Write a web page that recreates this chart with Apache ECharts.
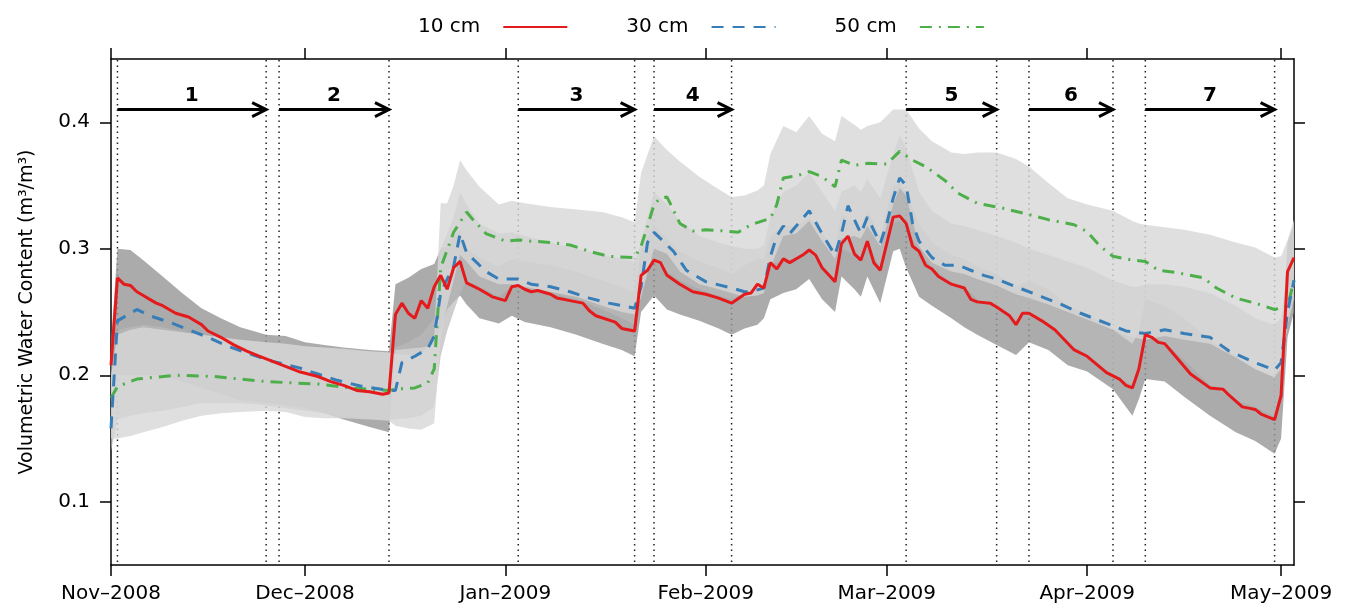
<!DOCTYPE html>
<html><head><meta charset="utf-8">
<script src="https://cdn.jsdelivr.net/npm/echarts@6/dist/echarts.min.js"></script>
<style>html,body{margin:0;padding:0;background:#fff}#c{width:1350px;height:607px}</style>
</head><body><div id="c"></div>
<script>
// x values are days since 2008-11-01
const monthTicks = [0, 30, 61, 92, 120, 151, 181];
const monthLabels = ['Nov\u20132008', 'Dec\u20132008', 'Jan\u20132009', 'Feb\u20132009', 'Mar\u20132009', 'Apr\u20132009', 'May\u20132009'];
const yTicks = [0.1, 0.2, 0.3, 0.4];
const periodBounds = [1, 24, 26, 43, 63, 81, 84, 96, 123, 137, 142, 155, 160, 180];
const arrowStart = [1, 26, 63, 84, 123, 142, 160];
const arrowEnd = [24, 43, 81, 96, 137, 155, 180];
const arrowLabels = ['1', '2', '3', '4', '5', '6', '7'];
const arrowLevel = 0.41;

// 10 cm
const redDays = [0,1,2,3,4,5,6,7,8,10,12,14,15,17,19,21,23,25,27,29,32,34,36,38,40,42,43,44,45,46,47,48,49,50,51,52,53,54,55,57,59,61,62,63,64,65,66,68,69,71,73,74,75,78,79,81,82,83,84,85,86,88,90,92,94,96,98,99,100,101,102,103,104,105,107,108,109,110,112,113,114,115,116,117,118,119,121,122,123,124,125,126,127,128,130,132,133,134,136,137,139,140,141,142,144,146,149,151,154,156,157,158,159,160,161,162,163,165,167,170,172,173,175,176,177,178,180,181,182,183];
const redVals = [0.208,0.277,0.272,0.271,0.266,0.263,0.260,0.257,0.255,0.249,0.246,0.240,0.235,0.230,0.224,0.219,0.215,0.211,0.207,0.203,0.199,0.195,0.192,0.188,0.187,0.185,0.186,0.248,0.257,0.249,0.245,0.259,0.253,0.270,0.279,0.268,0.285,0.290,0.273,0.268,0.262,0.259,0.270,0.271,0.268,0.266,0.267,0.264,0.261,0.259,0.257,0.251,0.247,0.242,0.237,0.235,0.279,0.283,0.291,0.289,0.279,0.272,0.266,0.264,0.261,0.257,0.264,0.265,0.272,0.269,0.289,0.284,0.292,0.289,0.295,0.299,0.295,0.285,0.274,0.304,0.310,0.296,0.291,0.306,0.289,0.283,0.325,0.326,0.320,0.302,0.298,0.287,0.284,0.278,0.272,0.269,0.260,0.258,0.257,0.254,0.247,0.240,0.249,0.249,0.243,0.236,0.220,0.215,0.202,0.197,0.192,0.190,0.205,0.232,0.230,0.226,0.225,0.213,0.201,0.190,0.189,0.184,0.175,0.174,0.173,0.169,0.165,0.184,0.282,0.293];

// 30 cm
const blueDays = [0,1,3,4,6,9,12,15,18,22,25,29,32,35,39,43,44,45,47,49,50,51,52,53,54,55,58,60,63,65,68,71,74,77,81,82,83,84,87,89,92,96,98,99,101,102,103,104,105,106,108,110,112,113,114,116,117,119,120,121,122,123,124,125,127,129,131,133,135,137,141,144,147,150,154,157,160,163,166,170,173,177,180,181,182,183];
const blueVals = [0.158,0.243,0.249,0.252,0.247,0.242,0.236,0.230,0.223,0.216,0.211,0.206,0.201,0.196,0.191,0.188,0.188,0.210,0.215,0.221,0.231,0.265,0.276,0.286,0.312,0.297,0.282,0.276,0.276,0.272,0.270,0.266,0.261,0.257,0.253,0.270,0.305,0.313,0.298,0.283,0.274,0.269,0.266,0.266,0.269,0.294,0.310,0.318,0.312,0.318,0.330,0.312,0.295,0.312,0.334,0.312,0.325,0.304,0.320,0.340,0.356,0.350,0.320,0.306,0.293,0.287,0.287,0.283,0.279,0.276,0.268,0.262,0.256,0.249,0.241,0.235,0.233,0.236,0.233,0.230,0.219,0.210,0.204,0.210,0.250,0.275];

// 50 cm
const greenDays = [0,1,4,6,10,16,20,24,28,32,37,40,43,44,47,49,50,51,52,53,55,56,58,61,63,65,68,71,74,77,81,82,83,84,85,86,88,90,92,95,97,99,102,103,104,106,108,110,112,113,115,117,120,122,124,126,129,131,134,138,142,145,149,151,153,155,158,160,162,165,169,171,174,177,180,182,183];
const greenVals = [0.182,0.191,0.197,0.198,0.200,0.199,0.197,0.195,0.194,0.193,0.190,0.189,0.188,0.189,0.190,0.194,0.205,0.285,0.299,0.313,0.329,0.323,0.312,0.306,0.307,0.306,0.305,0.303,0.298,0.294,0.293,0.302,0.318,0.335,0.340,0.341,0.320,0.314,0.315,0.314,0.313,0.319,0.324,0.335,0.356,0.3575,0.361,0.357,0.349,0.370,0.366,0.3675,0.367,0.377,0.370,0.365,0.354,0.344,0.336,0.332,0.327,0.323,0.319,0.3135,0.302,0.294,0.291,0.290,0.283,0.281,0.277,0.269,0.261,0.257,0.252,0.2545,0.275];

// shaded ranges (lower / upper) for each depth, on a shared day grid
const bandDays = [0,1,3,5,8,11,14,17,20,24,27,30,33,36,40,43,
  44,46,48,50,51,52,53,54,55,57,60,62,64,68,72,76,79,81,
  82,84,86,88,91,94,96,98,100,101,
  102,104,106,108,110,112,113,115,116,117,119,121,122,123,
  125,127,130,132,134,137,140,142,145,148,151,155,158,159,160,
  163,166,170,174,177,180,181,182,183];
const band10Lo = [0.190,0.200,0.200,0.200,0.200,0.195,0.190,0.185,0.180,0.178,0.176,0.174,0.170,0.165,0.159,0.155,
  0.220,0.221,0.222,0.224,0.236,0.252,0.258,0.263,0.256,0.245,0.241,0.247,0.242,0.238,0.232,0.225,0.220,0.215,
  0.250,0.263,0.252,0.248,0.243,0.237,0.232,0.237,0.240,0.245,
  0.260,0.265,0.268,0.276,0.260,0.250,0.278,0.268,0.262,0.278,0.257,0.298,0.300,0.285,
  0.262,0.255,0.245,0.238,0.232,0.224,0.216,0.226,0.220,0.208,0.203,0.189,0.168,0.181,0.197,
  0.195,0.183,0.168,0.155,0.148,0.138,0.150,0.230,0.250];
const band10Hi = [0.225,0.300,0.299,0.291,0.278,0.265,0.253,0.245,0.238,0.232,0.231,0.226,0.224,0.222,0.220,0.219,
  0.272,0.277,0.284,0.288,0.300,0.302,0.310,0.315,0.300,0.293,0.286,0.292,0.290,0.287,0.282,0.275,0.270,0.265,
  0.300,0.318,0.308,0.298,0.290,0.285,0.280,0.287,0.292,0.292,
  0.310,0.318,0.318,0.325,0.312,0.300,0.328,0.320,0.315,0.330,0.310,0.350,0.352,0.345,
  0.320,0.305,0.295,0.292,0.286,0.280,0.270,0.275,0.268,0.255,0.248,0.236,0.225,0.235,0.260,
  0.255,0.245,0.228,0.215,0.205,0.198,0.215,0.305,0.320];
const band30Lo = [0.140,0.165,0.168,0.170,0.172,0.175,0.178,0.178,0.178,0.176,0.174,0.172,0.170,0.168,0.166,0.165,
  0.165,0.166,0.168,0.175,0.215,0.235,0.250,0.265,0.275,0.270,0.262,0.270,0.268,0.265,0.260,0.252,0.245,0.240,
  0.275,0.290,0.282,0.275,0.268,0.263,0.260,0.265,0.270,0.270,
  0.288,0.290,0.293,0.298,0.285,0.275,0.300,0.295,0.290,0.303,0.285,0.320,0.322,0.318,
  0.298,0.285,0.273,0.270,0.260,0.255,0.243,0.250,0.240,0.225,0.216,0.200,0.192,0.205,0.232,
  0.226,0.212,0.192,0.180,0.175,0.167,0.185,0.260,0.280];
const band30Hi = [0.200,0.236,0.238,0.240,0.238,0.235,0.232,0.230,0.228,0.226,0.225,0.223,0.222,0.220,0.219,0.218,
  0.222,0.226,0.232,0.245,0.300,0.312,0.325,0.345,0.335,0.320,0.312,0.313,0.310,0.305,0.300,0.295,0.292,0.290,
  0.305,0.345,0.335,0.322,0.310,0.305,0.302,0.300,0.300,0.303,
  0.325,0.345,0.350,0.360,0.345,0.330,0.345,0.350,0.345,0.355,0.340,0.375,0.390,0.380,
  0.345,0.330,0.320,0.318,0.315,0.310,0.305,0.300,0.295,0.290,0.285,0.275,0.270,0.270,0.272,
  0.272,0.270,0.265,0.255,0.245,0.240,0.245,0.285,0.310];
const band50Lo = [0.150,0.150,0.152,0.155,0.159,0.164,0.168,0.170,0.171,0.172,0.171,0.167,0.166,0.166,0.165,0.164,
  0.160,0.158,0.157,0.162,0.230,0.255,0.275,0.295,0.290,0.278,0.272,0.272,0.270,0.266,0.262,0.255,0.250,0.248,
  0.262,0.300,0.296,0.282,0.272,0.268,0.265,0.262,0.263,0.265,
  0.285,0.310,0.312,0.322,0.306,0.292,0.308,0.310,0.308,0.318,0.302,0.335,0.348,0.342,
  0.302,0.289,0.282,0.280,0.276,0.271,0.264,0.261,0.256,0.250,0.244,0.236,0.230,0.229,0.228,
  0.231,0.228,0.225,0.214,0.205,0.199,0.205,0.240,0.260];
const band50Hi = [0.200,0.232,0.236,0.238,0.236,0.234,0.232,0.230,0.228,0.226,0.225,0.223,0.222,0.221,0.219,0.218,
  0.217,0.216,0.216,0.230,0.336,0.336,0.350,0.370,0.362,0.349,0.335,0.338,0.336,0.333,0.331,0.329,0.325,0.321,
  0.360,0.389,0.378,0.369,0.357,0.347,0.341,0.342,0.346,0.350,
  0.375,0.397,0.392,0.405,0.391,0.385,0.405,0.398,0.394,0.397,0.400,0.410,0.410,0.410,
  0.395,0.385,0.376,0.375,0.376,0.376,0.371,0.365,0.352,0.340,0.335,0.330,0.322,0.320,0.319,
  0.317,0.315,0.311,0.305,0.301,0.293,0.294,0.307,0.323];

const FONT = 'DejaVu Sans, Liberation Sans, Arial, sans-serif';

function bandSeries(name, lo, hi, color, z) {
  return {
    type: 'custom', name: name, z: z, silent: true,
    data: bandDays.map((d, i) => [d, lo[i], hi[i]]),
    encode: { x: 0, y: [1, 2] },
    renderItem: function (params, api) {
      if (params.dataIndex !== 0) return null;
      const top = [], bot = [];
      for (let i = 0; i < bandDays.length; i++) {
        top.push(api.coord([bandDays[i], hi[i]]));
        bot.push(api.coord([bandDays[i], lo[i]]));
      }
      return { type: 'polygon', shape: { points: top.concat(bot.reverse()) },
               style: { fill: color, stroke: null } };
    }
  };
}

function lineSeries(name, days, vals, color, type) {
  return {
    type: 'line', name: name, z: 5,
    data: days.map((d, i) => [d, vals[i]]),
    showSymbol: false, symbol: 'none', smooth: false,
    lineStyle: { color: color, width: 3, type: type, cap: 'butt' },
    itemStyle: { color: color },
    emphasis: { disabled: true }
  };
}

const chart = echarts.init(document.getElementById('c'), null, { renderer: 'canvas' });

const axisLineStyle = { color: '#000', width: 1.5 };
const option = {
  animation: false,
  backgroundColor: '#fff',
  textStyle: { fontFamily: FONT },
  grid: { left: 111, right: 56, top: 59, bottom: 42, containLabel: false },
  legend: {
    data: ['10 cm', '30 cm', '50 cm'],
    left: 413, top: 12,
    align: 'right',
    itemWidth: 64, itemHeight: 20, itemGap: 58,
    itemStyle: { opacity: 0 },
    textStyle: { fontSize: 20, color: '#000', fontFamily: FONT, padding: [0, 18, 0, 0] },
    selectedMode: false
  },
  xAxis: [{
    type: 'value', min: 0, max: 183, position: 'bottom',
    axisLine: { show: true, onZero: false, lineStyle: axisLineStyle },
    axisTick: { show: true, customValues: monthTicks, length: 11, lineStyle: axisLineStyle },
    axisLabel: { show: true, customValues: monthTicks, margin: 19, fontSize: 20, color: '#000', fontFamily: FONT,
      formatter: v => { const k = monthTicks.indexOf(v); return k >= 0 ? monthLabels[k] : ''; } },
    splitLine: { show: false }
  }, {
    type: 'value', min: 0, max: 183, position: 'top',
    axisLine: { show: true, onZero: false, lineStyle: axisLineStyle },
    axisTick: { show: true, customValues: monthTicks, length: 11, lineStyle: axisLineStyle },
    axisLabel: { show: false },
    splitLine: { show: false }
  }],
  yAxis: [{
    type: 'value', min: 0.05, max: 0.45, position: 'left',
    name: 'Volumetric Water Content (m\u00B3/m\u00B3)',
    nameLocation: 'middle', nameGap: 74, nameRotate: 90,
    nameTextStyle: { fontSize: 19, color: '#000', fontFamily: FONT },
    axisLine: { show: true, onZero: false, lineStyle: axisLineStyle },
    axisTick: { show: true, customValues: yTicks, length: 11, lineStyle: axisLineStyle },
    axisLabel: { show: true, customValues: yTicks, margin: 21, fontSize: 20, color: '#000', fontFamily: FONT,
      formatter: v => v.toFixed(1) },
    splitLine: { show: false }
  }, {
    type: 'value', min: 0.05, max: 0.45, position: 'right',
    axisLine: { show: true, onZero: false, lineStyle: axisLineStyle },
    axisTick: { show: true, customValues: yTicks, length: 11, lineStyle: axisLineStyle },
    axisLabel: { show: false },
    splitLine: { show: false }
  }],
  series: [
    {
      type: 'custom', name: 'periods', z: 0, silent: true,
      data: periodBounds.map(d => [d]),
      encode: { x: 0 },
      renderItem: function (params, api) {
        const cs = params.coordSys;
        const x = api.coord([api.value(0), 0.25])[0];
        return { type: 'line', shape: { x1: x, y1: cs.y + 1, x2: x, y2: cs.y + cs.height - 1 },
                 style: { stroke: '#222', lineWidth: 1.5, lineDash: [1.5, 4] } };
      }
    },
    bandSeries('band10', band10Lo, band10Hi, 'rgba(150,150,150,0.8)', 1),
    bandSeries('band30', band30Lo, band30Hi, 'rgba(185,185,185,0.7)', 2),
    bandSeries('band50', band50Lo, band50Hi, 'rgba(215,215,215,0.8)', 3),
    lineSeries('50 cm', greenDays, greenVals, '#4daf4a', [12, 7, 2, 7]),
    lineSeries('30 cm', blueDays, blueVals, '#377eb8', [12, 9]),
    lineSeries('10 cm', redDays, redVals, '#e41a1c', 'solid'),
    {
      type: 'custom', name: 'arrows', z: 6, silent: true,
      data: arrowStart.map((s, i) => [s, arrowEnd[i], arrowLevel, i]),
      encode: { x: [0, 1], y: 2 },
      renderItem: function (params, api) {
        const p0 = api.coord([api.value(0), api.value(2)]);
        const p1 = api.coord([api.value(1), api.value(2)]);
        const lab = arrowLabels[api.value(3)];
        return {
          type: 'group',
          children: [
            { type: 'line', shape: { x1: p0[0], y1: p0[1], x2: p1[0] - 1, y2: p1[1] },
              style: { stroke: '#000', lineWidth: 3 } },
            { type: 'polyline', shape: { points: [[p1[0] - 14, p1[1] - 7], [p1[0], p1[1]], [p1[0] - 14, p1[1] + 7]] },
              style: { stroke: '#000', lineWidth: 3, fill: null, lineJoin: 'miter' } },
            { type: 'text', x: (p0[0] + p1[0]) / 2, y: p0[1] - 14,
              style: { text: lab, fontSize: 20, fontWeight: 'bold', fontFamily: FONT, fill: '#000',
                       align: 'center', verticalAlign: 'middle' } }
          ]
        };
      }
    }
  ]
};
chart.setOption(option);
</script>
</body></html>
